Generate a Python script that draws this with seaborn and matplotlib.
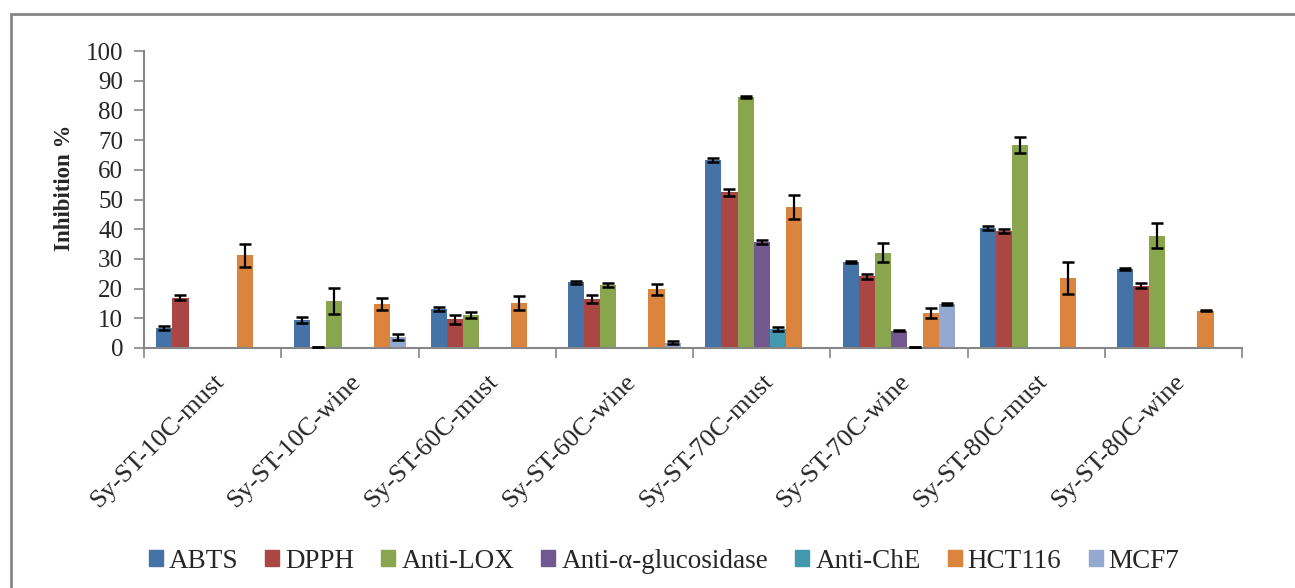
import matplotlib
matplotlib.use("Agg")
import matplotlib.pyplot as plt
import matplotlib.transforms as mtransforms
from matplotlib.patches import Rectangle
import seaborn as sns
import pandas as pd
import numpy as np

# === DATA ===
SAMPLES = ["Sy-ST-10C-must", "Sy-ST-10C-wine", "Sy-ST-60C-must", "Sy-ST-60C-wine",
           "Sy-ST-70C-must", "Sy-ST-70C-wine", "Sy-ST-80C-must", "Sy-ST-80C-wine"]
ASSAYS = ["ABTS", "DPPH", "Anti-LOX", "Anti-α-glucosidase", "Anti-ChE", "HCT116", "MCF7"]

abts = [6.8, 9.5, 13.1, 22.1, 63.3, 28.9, 40.4, 26.5]
dpph = [17.0, 0.3, 9.7, 16.5, 52.4, 24.1, 39.5, 21.0]
anti_lox = [0, 15.8, 11.1, 21.1, 84.6, 32.1, 68.5, 37.8]
anti_gluc = [0, 0, 0, 0, 35.6, 5.8, 0, 0]
anti_che = [0, 0, 0, 0, 6.4, 0.3, 0, 0]
hct116 = [31.2, 14.8, 15.1, 19.8, 47.5, 11.7, 23.5, 12.6]
mcf7 = [0, 3.7, 0, 1.8, 0, 14.7, 0, 0]

abts_err = [0.6, 1.0, 0.7, 0.6, 0.6, 0.3, 0.7, 0.3]
dpph_err = [1.0, 0, 1.5, 1.2, 1.3, 0.7, 0.7, 0.9]
anti_lox_err = [0, 4.3, 1.0, 0.7, 0.3, 3.1, 2.7, 4.2]
anti_gluc_err = [0, 0, 0, 0, 0.6, 0.1, 0, 0]
anti_che_err = [0, 0, 0, 0, 0.8, 0, 0, 0]
hct116_err = [3.8, 2.0, 2.4, 1.8, 3.9, 1.7, 5.4, 0.3]
mcf7_err = [0, 1.0, 0, 0.5, 0, 0.3, 0, 0]

COLORS = ["#4572A7", "#AA4643", "#89A54E", "#71588F", "#4198AF", "#DB843D", "#93A9CF"]

values = [abts, dpph, anti_lox, anti_gluc, anti_che, hct116, mcf7]
errors = [abts_err, dpph_err, anti_lox_err, anti_gluc_err, anti_che_err, hct116_err, mcf7_err]

rows = []
for assay, vals in zip(ASSAYS, values):
    for s, v in zip(SAMPLES, vals):
        rows.append({"sample": s, "assay": assay, "value": v})
df = pd.DataFrame(rows)

# === PLOT ===
sns.set_style("white")
plt.rcParams['font.family'] = ['Liberation Serif', 'DejaVu Serif']

fig = plt.figure(figsize=(12.95, 5.88), dpi=100)
ax = fig.add_axes([144 / 1295, 1 - 348 / 588, (1242 - 144) / 1295, (348 - 51) / 588])

sns.barplot(data=df, x="sample", y="value", hue="assay", order=SAMPLES, hue_order=ASSAYS,
            palette=dict(zip(ASSAYS, COLORS)), width=0.82, saturation=1,
            errorbar=None, ax=ax, linewidth=0, legend=False)

# error bars at the bar centres
for cont, errs in zip(ax.containers, errors):
    xs = [b.get_x() + b.get_width() / 2 for b in cont]
    hs = [b.get_height() for b in cont]
    for x, h, e in zip(xs, hs, errs):
        if h > 0:
            ax.errorbar(x, h, yerr=e, fmt="none", ecolor="black", elinewidth=1.6,
                        capsize=4.5, capthick=1.8, zorder=5)

ax.set_ylim(0, 100)
ax.set_xlim(-0.5, len(SAMPLES) - 0.5)
ax.set_yticks(np.arange(0, 101, 10))
ax.set_xticks(np.arange(len(SAMPLES)))
ax.set_xticklabels(SAMPLES, rotation=45, ha="right", rotation_mode="anchor", fontsize=19)
shift = mtransforms.ScaledTranslation(-6 / 100, 0, fig.dpi_scale_trans)
for lbl in ax.get_xticklabels():
    lbl.set_transform(lbl.get_transform() + shift)
ax.tick_params(axis="y", labelsize=18, length=7, width=1.2, color="#868686",
               direction="out", left=True, pad=8)
ax.tick_params(axis="x", length=0, pad=16)
# group separator ticks
ax.set_xticks(np.arange(-0.5, len(SAMPLES)), minor=True)
ax.tick_params(axis="x", which="minor", length=7, width=1.2, color="#868686", bottom=True)

ax.set_xlabel("")
ax.set_ylabel("Inhibition %", fontsize=16.5, fontweight="bold")
ax.yaxis.set_label_coords(-0.063, 0.54)

for side in ["top", "right"]:
    ax.spines[side].set_visible(False)
for side in ["left", "bottom"]:
    ax.spines[side].set_color("#868686")
    ax.spines[side].set_linewidth(1.5)

handles = [Rectangle((0, 0), 1, 1, color=c) for c in COLORS]
fig.legend(handles, ASSAYS, loc="center", bbox_to_anchor=(664 / 1295, 1 - 561 / 588),
           ncol=7, frameon=False, fontsize=19.5, handlelength=0.52, handleheight=0.52,
           handletextpad=0.22, columnspacing=1.0)

# outer chart frame (cut at right/bottom like the reference)
fig.add_artist(Rectangle((11 / 1295, -0.1), 1.2, 1 - 14 / 588 + 0.1, transform=fig.transFigure,
                         fill=False, edgecolor="#868686", linewidth=2))

fig.savefig("out.png", dpi=100)
